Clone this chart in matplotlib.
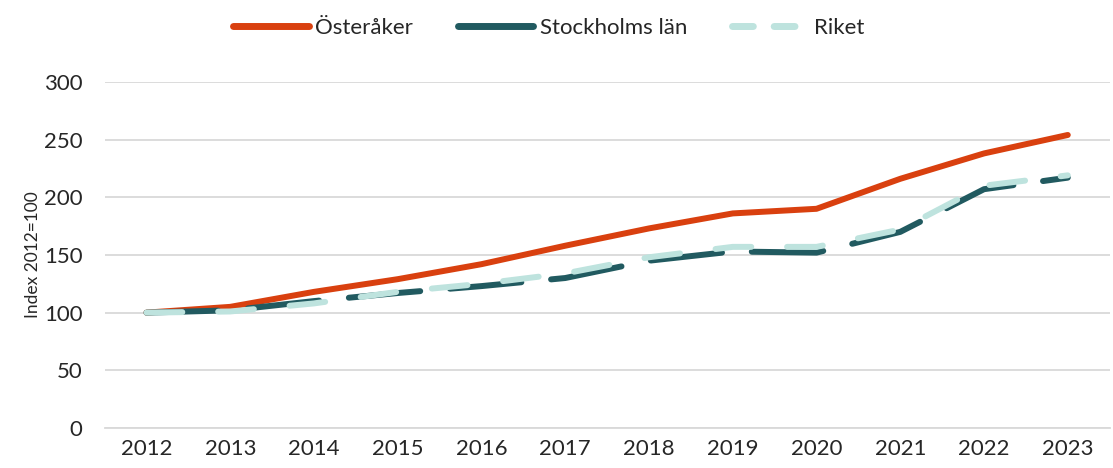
import matplotlib
matplotlib.use("Agg")
import matplotlib.pyplot as plt
from matplotlib.lines import Line2D

years = ["2012", "2013", "2014", "2015", "2016", "2017", "2018", "2019", "2020", "2021", "2022", "2023"]
osteraker = [100, 105, 118, 129, 142, 158, 173, 186, 190, 216, 238, 254]
stockholm = [100, 102, 110, 117, 123, 130, 145, 153, 152, 170, 207, 217]
riket = [100, 101, 108, 118, 125, 134, 148, 157, 157, 172, 210, 219]

c_ost = "#D9400F"
c_sth = "#215A60"
c_rik = "#BEE3DE"

plt.rcParams['font.family'] = ['Lato', 'DejaVu Sans']
fig = plt.figure(figsize=(11.13, 4.68), dpi=100)
ax = fig.add_axes([0.094, 0.0855, 0.903, 0.7395])

x = list(range(len(years)))
ax.plot(x, osteraker, color=c_ost, lw=4.3, solid_capstyle='round', zorder=3)
ax.plot(x, stockholm, color=c_sth, lw=4.3, dashes=(12, 5), dash_capstyle='round', zorder=4)
ax.plot(x, riket, color=c_rik, lw=4.3, dashes=(6, 6), dash_capstyle='round', zorder=5)

ax.set_ylim(0, 300)
ax.set_xlim(-0.5, 11.5)
ax.set_yticks(range(0, 301, 50))
ax.set_xticks(x)
ax.set_xticklabels(years)
ax.grid(axis='y', color='#D9D9D9', lw=1.3)
ax.set_axisbelow(True)
for s in ['top', 'right', 'left']:
    ax.spines[s].set_visible(False)
ax.spines['bottom'].set_color('#D9D9D9')
ax.spines['bottom'].set_linewidth(1.3)
ax.tick_params(axis='both', length=0, labelsize=16, colors='#262626', pad=8)
ax.tick_params(axis='y', pad=16)
ax.set_ylabel("Index 2012=100", fontsize=12.5, color='#262626', labelpad=2)

handles = [
    Line2D([], [], color=c_ost, lw=5, solid_capstyle='round'),
    Line2D([], [], color=c_sth, lw=5, solid_capstyle='round'),
    Line2D([], [], color=c_rik, lw=5, dashes=(3, 3), dash_capstyle='round'),
]
leg = fig.legend(handles, ["Österåker", "Stockholms län", "Riket"], loc='upper center',
           bbox_to_anchor=(0.493, 1.005), ncol=3, frameon=False, fontsize=16,
           handlelength=3.4, columnspacing=2.0, handletextpad=0.3)
for t in leg.get_texts():
    t.set_color('#262626')

fig.savefig("out.png", dpi=100)
